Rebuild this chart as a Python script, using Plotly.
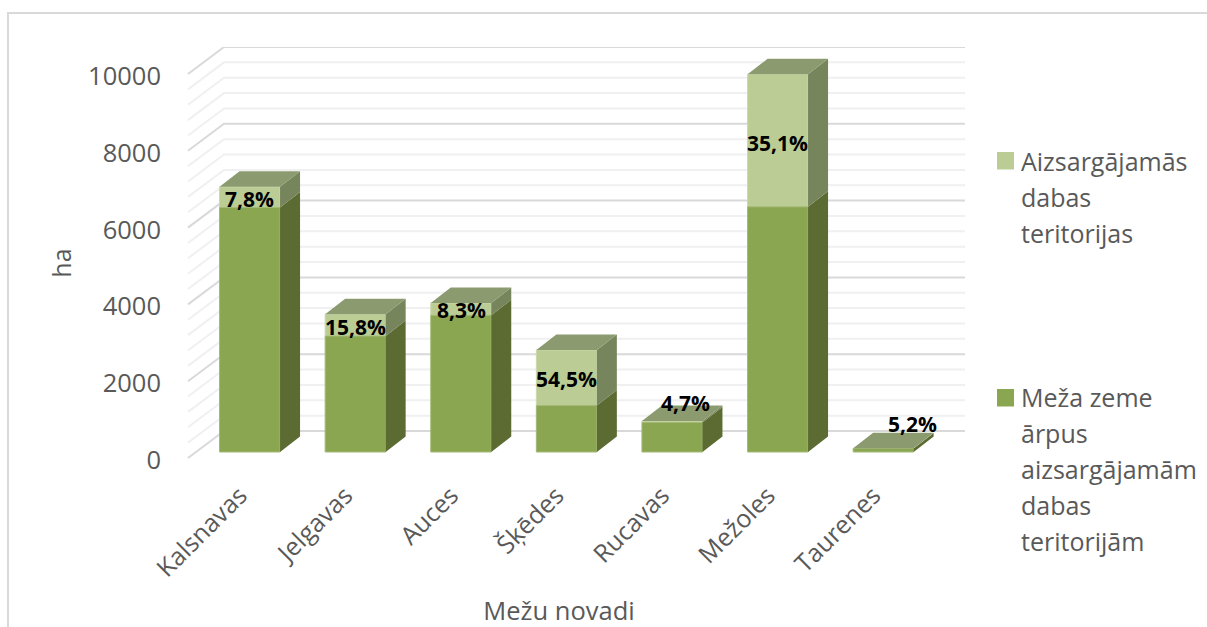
import plotly.graph_objects as go

# ---- data ----
categories = ["Kalsnavas", "Jelgavas", "Auces", "Šķēdes", "Rucavas", "Mežoles", "Taurenes"]
outside_values = [6370, 3020, 3560, 1208, 769, 6385, 90]
protected_values = [535, 570, 322, 1448, 38, 3450, 5]
share_labels = ["7,8%", "15,8%", "8,3%", "54,5%", "4,7%", "35,1%", "5,2%"]
label_nudges = [(0, -2), (0, -2), (0, -1), (0, -1), (13, 19), (0, -2), (29, 24)]
major_ticks = [0, 2000, 4000, 6000, 8000, 10000]
minor_ticks = [400, 800, 1200, 1600, 2400, 2800, 3200, 3600, 4400, 4800, 5200, 5600,
               6400, 6800, 7200, 7600, 8400, 8800, 9200, 9600]
protected_name = ["Aizsargājamās", "dabas", "teritorijas"]
outside_name = ["Meža zeme", "ārpus", "aizsargājamām", "dabas", "teritorijām"]

# ---- 3D projection (pixels of the picture) ----
W, H = 1207, 627
L, R, T, B = 153, 965, 47, 479
AX_X, AX_Y0 = 188, 458
PX_PER_CAT = 105.6
PX_PER_UNIT = 0.0384
px_x = lambda n: n / PX_PER_CAT
px_y = lambda n: n / PX_PER_UNIT
x_left = -0.5
x_lo = x_left - px_x(AX_X - L)
x_hi = x_left + px_x(R - AX_X)
y_lo = -px_y(B - AX_Y0)
y_hi = px_y(AX_Y0 - T)
wall_dx, wall_dy = px_x(36), px_y(27)
bar_dx, bar_dy = px_x(20), px_y(15.5)
bar_shift = px_x(9)
bar_width = px_x(60.5)
bar_base = px_y(6)

C_FRONT, C_FRONT_L = "#8BA650", "#BBCD95"
C_SIDE, C_SIDE_L = "#5B6B31", "#76855C"
C_TOP = "#8C9A70"
C_TEXT = "#595959"
FONT = "Open Sans"

centers = [i + bar_shift for i in range(len(categories))]
tick_positions = [c - px_x(10) for c in centers]


def multi(lines):
    return "<br>".join(f"<span style='font-size:25px'>{t}</span>" for t in lines)


fig = go.Figure()
fig.add_bar(x=centers, y=protected_values, width=bar_width,
            base=[bar_base + v for v in outside_values], showlegend=False,
            marker=dict(color=C_FRONT_L, line=dict(color="#CBD9AC", width=1)))
fig.add_bar(x=centers, y=outside_values, width=bar_width,
            base=[bar_base] * len(categories), showlegend=False,
            marker=dict(color=C_FRONT, line=dict(color="#A3B976", width=1)))


def faces(kind, vals_low, vals_high):
    xs, ys = [], []
    for c, lo, hi in zip(centers, vals_low, vals_high):
        xr = c + bar_width / 2
        xl = c - bar_width / 2
        lo, hi = lo + bar_base, hi + bar_base
        if kind == "side":
            px_ = [xr, xr + bar_dx, xr + bar_dx, xr, xr]
            py_ = [lo, lo + bar_dy, hi + bar_dy, hi, lo]
        else:
            px_ = [xl, xl + bar_dx, xr + bar_dx, xr, xl]
            py_ = [hi, hi + bar_dy, hi + bar_dy, hi, hi]
        xs += px_ + [None]
        ys += py_ + [None]
    return xs, ys


totals = [a + b for a, b in zip(outside_values, protected_values)]
zeros = [0] * len(categories)
for kind, lo, hi, col in [
    ("side", zeros, outside_values, C_SIDE),
    ("side", outside_values, totals, C_SIDE_L),
    ("top", totals, totals, C_TOP),
]:
    xs, ys = faces(kind, lo, hi)
    fig.add_scatter(x=xs, y=ys, mode="lines", fill="toself", fillcolor=col,
                    line=dict(width=0, color=col), showlegend=False, hoverinfo="skip")

# legend entries (text from the native legend, square swatches placed beside the first line)
for nm, grp, col in [(protected_name, "a", C_FRONT_L), (outside_name, "b", C_FRONT)]:
    fig.add_scatter(x=[None], y=[None], mode="lines", name=multi(nm), legendgroup=grp,
                    line=dict(width=0, color=col), hoverinfo="skip")

# walls' gridlines, below the bars
shapes = []
for vals, col, w in [(minor_ticks, "#F0F0F0", 2), (major_ticks, "#D9D9D9", 2)]:
    for v in vals:
        path = (f"M {x_left},{v} L {x_left + wall_dx},{v + wall_dy} "
                f"L {x_hi},{v + wall_dy}")
        shapes.append(dict(type="path", path=path, xref="x", yref="y", layer="below",
                           line=dict(color=col, width=w)))

fx = lambda p: (p - L) / (R - L)
fy = lambda p: (B - p) / (B - T)
# outer chart frame
frame = f"M {fx(8)},{fy(H + 5)} L {fx(8)},{fy(13)} L {fx(W + 5)},{fy(13)}"
shapes.append(dict(type="path", path=frame, xref="paper", yref="paper", layer="below",
                   line=dict(color="#D9D9D9", width=2)))
# legend swatches
for top, col in [(152, C_FRONT_L), (389, C_FRONT)]:
    shapes.append(dict(type="rect", xref="paper", yref="paper", x0=fx(997), x1=fx(1014),
                       y0=fy(top), y1=fy(top + 17.5), fillcolor=col, line=dict(width=0)))

annotations = []
for c, lo, v, t, (nx, ny) in zip(centers, outside_values, protected_values, share_labels, label_nudges):
    annotations.append(dict(x=c, y=bar_base + lo + v / 2, text=f"<b>{t}</b>", showarrow=False,
                            xshift=nx, yshift=ny, font=dict(family=FONT, size=21, color="black")))

fig.update_layout(
    width=W, height=H, margin=dict(l=L, r=W - R, t=T, b=H - B, autoexpand=False),
    paper_bgcolor="white", plot_bgcolor="rgba(0,0,0,0)",
    barmode="overlay", shapes=shapes, annotations=annotations,
    font=dict(family=FONT, color=C_TEXT),
    legend=dict(x=fx(981), y=fy(136), xanchor="left", yanchor="top",
                font=dict(family=FONT, size=27.7, color=C_TEXT),
                tracegroupgap=125, itemclick=False, itemdoubleclick=False,
                bgcolor="rgba(0,0,0,0)"),
    xaxis=dict(range=[x_lo, x_hi], tickmode="array", tickvals=tick_positions, ticktext=categories,
               tickangle=-45, ticks="", showgrid=False, zeroline=False, showline=False,
               ticklabelstandoff=-4, tickfont=dict(family=FONT, size=25, color=C_TEXT),
               title=dict(text="Mežu novadi", standoff=98, font=dict(family=FONT, size=25.5, color=C_TEXT))),
    yaxis=dict(range=[y_lo, y_hi], tickmode="array", tickvals=major_ticks,
               ticktext=[str(v) for v in major_ticks], ticks="", showgrid=False,
               zeroline=False, showline=False, ticklabelstandoff=-9, ticklabelshift=2,
               tickfont=dict(family=FONT, size=25.5, color=C_TEXT),
               title=dict(text="ha", standoff=9, font=dict(family=FONT, size=25, color=C_TEXT))),
)

fig.write_html("out.html", config=dict(displayModeBar=False),
               post_script="document.body.style.margin='0';document.body.style.overflow='hidden';")
